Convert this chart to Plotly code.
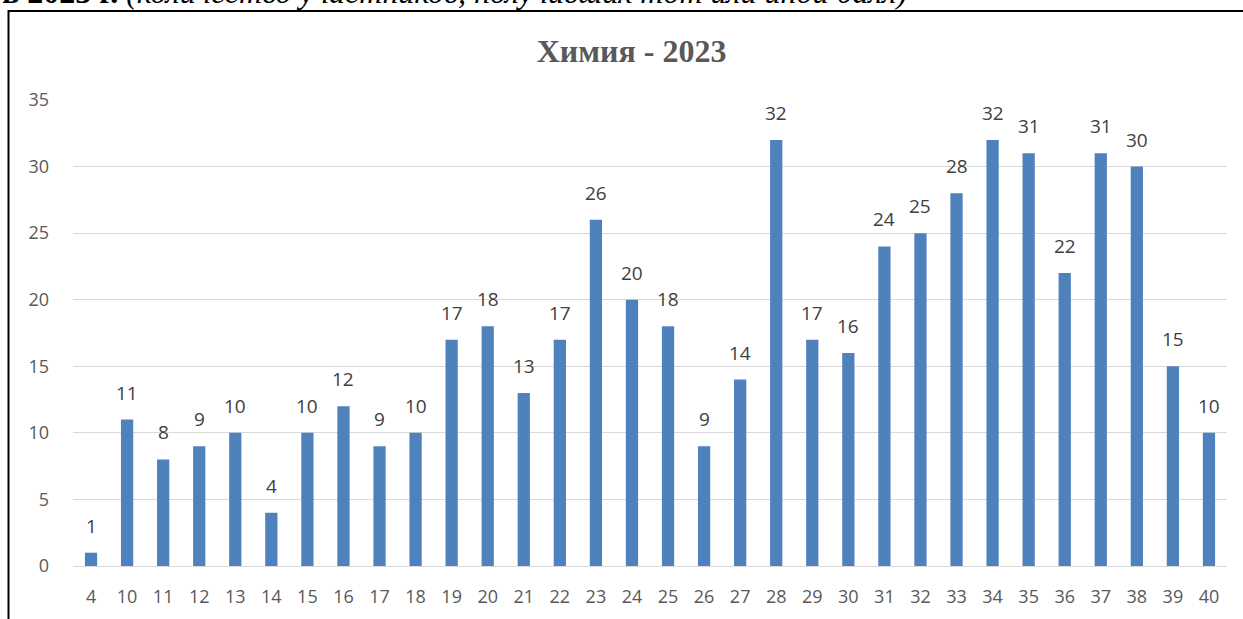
import plotly.graph_objects as go

categories = ["4", "10", "11", "12", "13", "14", "15", "16", "17", "18", "19", "20", "21", "22", "23",
              "24", "25", "26", "27", "28", "29", "30", "31", "32", "33", "34", "35", "36", "37", "38",
              "39", "40"]
values = [1, 11, 8, 9, 10, 4, 10, 12, 9, 10, 17, 18, 13, 17, 26, 20, 18, 9, 14, 32, 17, 16, 24, 25,
          28, 32, 31, 22, 31, 30, 15, 10]
y_ticks = [0, 5, 10, 15, 20, 25, 30, 35]
title_text = "Химия - 2023"
header_text = "<b>в 2023 г.</b> <i>(количество участников, получивших тот или иной балл)</i>"

W, H = 1243, 619
L, R, T, B = 73, 1227, 100, 566
FONT = "Open Sans, Liberation Sans, sans-serif"


def px(x):
    return (x - L) / (R - L)


def py(y):
    return (B - y) / (B - T)


fig = go.Figure()
fig.add_trace(go.Bar(
    x=categories, y=values, marker_color="#4f81bd", marker_line_width=0,
    hoverinfo="x+y",
))

# data labels: on a category axis, annotation x is the category's index
label_annots = [dict(x=i, y=v, xref="x", yref="y", text=str(v), showarrow=False,
                     xanchor="center", yanchor="bottom", yshift=12,
                     font=dict(family=FONT, size=19, color="#404040"))
                for i, v in enumerate(values)]

fig.update_layout(
    width=W, height=H,
    margin=dict(l=L, r=W - R, t=T, b=H - B, pad=0, autoexpand=False),
    paper_bgcolor="white", plot_bgcolor="white",
    bargap=0.66,
    showlegend=False,
    title=dict(text="<b>" + title_text + "</b>", x=631.5 / W, xanchor="center",
               y=1 - 51 / H, yanchor="middle",
               font=dict(family="Liberation Serif, Times New Roman, serif", size=32, color="#595959")),
    xaxis=dict(type="category", categoryorder="array", categoryarray=categories,
               range=[-0.5, len(categories) - 0.5],
               showgrid=False, showline=False, ticks="",
               tickfont=dict(family=FONT, size=18, color="#595959"),
               ticklabelstandoff=18),
    yaxis=dict(range=[0, 35], tickvals=y_ticks, showgrid=True, gridcolor="#d9d9d9", gridwidth=1,
               zeroline=True, zerolinecolor="#d9d9d9", zerolinewidth=1,
               showline=False, ticks="",
               tickfont=dict(family=FONT, size=18, color="#595959"),
               ticklabelstandoff=23),
    shapes=[dict(type="rect", xref="paper", yref="paper",
                 x0=px(8.5), x1=px(1300), y0=py(11), y1=py(700),
                 line=dict(color="black", width=2), fillcolor="rgba(0,0,0,0)", layer="above")],
    annotations=[dict(text=header_text, xref="paper", yref="paper", x=px(0), y=py(-8),
                      xanchor="left", yanchor="middle", showarrow=False,
                      font=dict(family="Liberation Serif, Times New Roman, serif", size=32, color="black"))]
                + label_annots,
)

fig.write_html("out.html", config={"displayModeBar": False},
               post_script="document.body.style.margin='0';")
